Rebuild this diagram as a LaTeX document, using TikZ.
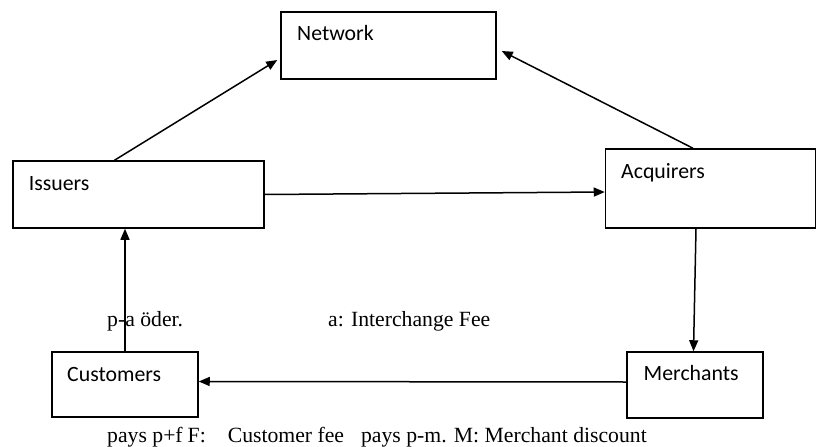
\documentclass[tikz,border=0pt]{standalone}
\usepackage{fontspec}
\setmainfont{Liberation Serif}
\newfontfamily\boxfont{Carlito}
\usetikzlibrary{arrows.meta}
\tikzset{
  box/.style={draw, line width=1.5pt, rectangle, inner sep=0pt},
  boxlabel/.style={anchor=base west, inner sep=0pt, font=\boxfont\fontsize{21.8}{26}\selectfont},
  note/.style={anchor=base west, inner sep=0pt, font=\fontsize{21.7}{26}\selectfont},
  flow/.style={line width=1.5pt, -{Triangle[length=11pt,width=9pt]}}
}
\begin{document}
\begin{tikzpicture}[x=1pt,y=-1pt]
  \useasboundingbox (0,0) rectangle (817,447);
  % boxes
  \node[box, minimum width=215pt, minimum height=67pt] (net)  at (388.5,45.5) {};
  \node[box, minimum width=251pt, minimum height=67pt] (iss)  at (138.5,194.5) {};
  \node[box, minimum width=210pt, minimum height=79pt] (acq)  at (710.5,188.5) {};
  \node[box, minimum width=146pt, minimum height=65pt] (cust) at (125,384.5) {};
  \node[box, minimum width=136pt, minimum height=66pt] (merch) at (695,385) {};
  % box captions
  \node[boxlabel] (netlbl)   at (297,40.7)  {Network};
  \node[boxlabel] (isslbl)   at (28.7,190.7) {Issuers};
  \node[boxlabel] (acqlbl)   at (621,178)   {Acquirers};
  \node[boxlabel] (custlbl)  at (67,381.7)  {Customers};
  \node[boxlabel] (merchlbl) at (643.5,380.7) {Merchants};
  % connectors
  \draw[flow] ([xshift=-24pt]iss.north) -- ([xshift=-3pt,yshift=-14.5pt]net.west);
  \draw[flow] ([xshift=-17.5pt]acq.north) -- ([xshift=5pt,yshift=-5.5pt]net.east);
  \draw[flow] (iss.east) -- ([yshift=-3.5pt]acq.west);
  \draw[flow] (cust.north) -- (cust.north |- iss.south);
  \draw[flow] ([xshift=-14.5pt]acq.south) -- ([xshift=-1.5pt]merch.north);
  \draw[flow] ([yshift=3pt]merch.west) -- ([yshift=3pt]cust.east);
  % fee notes
  \node[note] (pa)  at (107,326) {p-a öder.};
  \node[note] (ic)  at (328,326) {a: Interchange Fee};
  \node[note] (fees) at (107,442) {pays p+f\hspace{5pt}F:\hspace{22pt}Customer fee\hspace{17pt}pays p-m. M: Merchant discount};
\end{tikzpicture}
\end{document}
